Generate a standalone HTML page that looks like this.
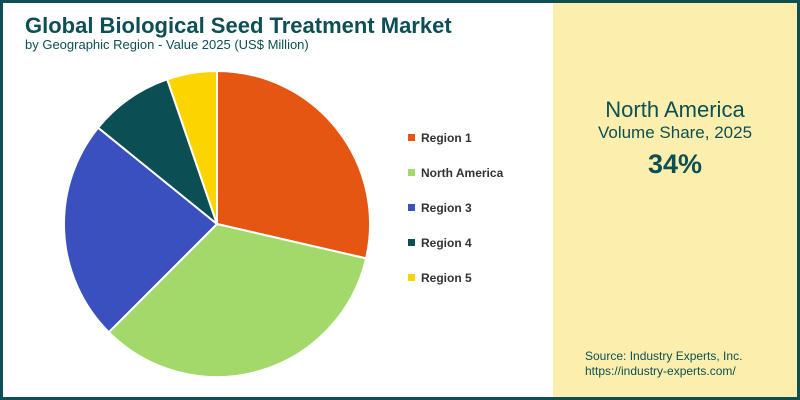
<!DOCTYPE html>
<html><head><style>
body{margin:0;width:800px;height:400px;overflow:hidden;font-family:"Liberation Sans",sans-serif;}
#f{position:absolute;left:0;top:0;width:794px;height:394px;border:3px solid #0d4f55;background:#fff;}
#rp{position:absolute;left:553px;top:3px;width:244px;height:394px;background:#fcefad;}
.t{position:absolute;white-space:nowrap;color:#0d4f55;}
.lg{position:absolute;left:408px;font-size:12px;font-weight:bold;color:#333;}
.lg span{display:inline-block;width:7px;height:7px;margin-right:6px;vertical-align:1px;}
</style></head><body>
<div id="f"></div>
<div id="rp"></div>
<div class="t" style="left:25px;top:13px;font-size:22px;font-weight:bold;">Global Biological Seed Treatment Market</div>
<div class="t" style="left:25px;top:37px;font-size:13px;">by Geographic Region - Value 2025 (US$ Million)</div>
<svg style="position:absolute;left:0;top:0" width="800" height="400">
<g stroke="#fff" stroke-width="2" stroke-linejoin="round">
<path d="M217,224 L217,71 A153,153 0 0 1 366.1,258.4 Z" fill="#e55613"/>
<path d="M217,224 L366.1,258.4 A153,153 0 0 1 108.8,332.2 Z" fill="#a3d86a"/>
<path d="M217,224 L108.8,332.2 A153,153 0 0 1 98.1,127.7 Z" fill="#3a50bf"/>
<path d="M217,224 L98.1,127.7 A153,153 0 0 1 167.2,79.3 Z" fill="#0b4f55"/>
<path d="M217,224 L167.2,79.3 A153,153 0 0 1 217,71 Z" fill="#fcd500"/>
</g></svg>
<div class="lg" style="top:131px"><span style="background:#e55613"></span>Region 1</div>
<div class="lg" style="top:166px"><span style="background:#a3d86a"></span>North America</div>
<div class="lg" style="top:201px"><span style="background:#3a50bf"></span>Region 3</div>
<div class="lg" style="top:236px"><span style="background:#0b4f55"></span>Region 4</div>
<div class="lg" style="top:271px"><span style="background:#fcd500"></span>Region 5</div>
<div class="t" style="left:553px;width:244px;text-align:center;top:97px;font-size:22px;">North America</div>
<div class="t" style="left:553px;width:244px;text-align:center;top:123px;font-size:17px;">Volume Share, 2025</div>
<div class="t" style="left:553px;width:244px;text-align:center;top:149px;font-size:27px;font-weight:bold;">34%</div>
<div class="t" style="left:585px;top:349px;font-size:12px;">Source: Industry Experts, Inc.</div>
<div class="t" style="left:585px;top:364px;font-size:12px;">https://industry-experts.com/</div>
</body></html>
